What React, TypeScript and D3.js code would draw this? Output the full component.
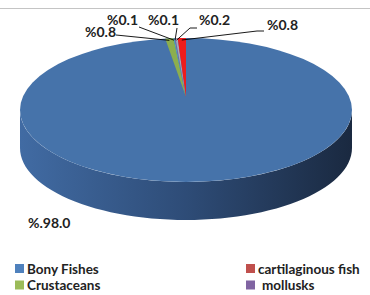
import * as d3 from "d3";

// slices in clockwise drawing order, starting at 12 o'clock
const categories = ["Bony Fishes", "Crustaceans", "group 5", "mollusks", "group 6", "cartilaginous fish"];
const values = [98.0, 0.8, 0.1, 0.1, 0.2, 0.8];
const labels = ["%.98.0", "%0.8", "%0.1", "%0.1", "%0.2", "%0.8"];
const colors = ["#4673aa", "#8cae4e", "#4bacc6", "#8064a2", "#a9a9b8", "#ee1c1c"];

// legend as it shows (two columns)
const legendNames = ["Bony Fishes", "cartilaginous fish", "Crustaceans", "mollusks"];
const legendColors = ["#4f81bd", "#c0504d", "#9bbb59", "#8064a2"];

// label anchors (layout only)
const labelLayout = [
  { x: 28, y: 228, elbow: null },
  { x: 85, y: 37, elbow: [116, 35] },
  { x: 107, y: 25, elbow: [139, 27] },
  { x: 148, y: 25, elbow: [177, 28] },
  { x: 199, y: 25, elbow: [197, 28], elbow2: [190, 28] },
  { x: 267, y: 30, elbow: [264, 31], elbow2: [257, 31] },
];

const W = 370;
const H = 295;
const cx = 186;
const cy = 110;
const rx = 166;
const ry = 72;
const depth = 38;
const apexY = cy - 13;

const pt = (a: number, dy = 0): [number, number] => [cx + rx * Math.sin(a), cy - ry * Math.cos(a) + dy];

export default function App() {
  const pie = d3.pie<number>().sort(null).value((d) => d);
  const arcs = pie(values);

  const line = d3.line();

  // front side of the disc
  const sideTop = d3.range(0, 61).map((i) => pt(Math.PI / 2 + (Math.PI * i) / 60));
  const sideBottom = d3.range(0, 61).map((i) => pt((3 * Math.PI) / 2 - (Math.PI * i) / 60, depth));
  const sidePath = line([...sideTop, ...sideBottom]) + "Z";

  const wedge = (a0: number, a1: number) => {
    const n = 12;
    const pts: [number, number][] = [[cx, apexY]];
    for (let i = 0; i <= n; i++) pts.push(pt(a0 + ((a1 - a0) * i) / n));
    return line(pts) + "Z";
  };

  const font = "Lato, 'Open Sans', sans-serif";

  return (
    <svg width={W} height={H} style={{ position: "absolute", left: 0, top: 0, background: "#fff" }}>
      <defs>
        <linearGradient id="side" x1="0" x2="1" y1="0" y2="0">
          <stop offset="0" stopColor="#416ba3" />
          <stop offset="0.5" stopColor="#2e4c77" />
          <stop offset="1" stopColor="#1a2940" />
        </linearGradient>
      </defs>
      <line x1={0} x2={W} y1={8.5} y2={8.5} stroke="#c4c4c4" strokeWidth={1} />

      <path d={sidePath} fill="url(#side)" />
      <ellipse cx={cx} cy={cy} rx={rx} ry={ry} fill={colors[0]} />

      {arcs.slice(1).map((a, i) => (
        <path key={categories[i + 1]} d={wedge(a.startAngle, a.endAngle)} fill={colors[i + 1]} />
      ))}

      {arcs.map((a, i) => {
        const L = labelLayout[i];
        const mid = (a.startAngle + a.endAngle) / 2;
        const [mx, my] = pt(mid, 2);
        const pts: [number, number][] = [];
        if (L.elbow) {
          pts.push(L.elbow as [number, number]);
          if ((L as any).elbow2) pts.push((L as any).elbow2);
          pts.push([mx, my]);
        }
        return (
          <g key={"lab" + i}>
            {pts.length > 0 && <path d={line(pts) || ""} fill="none" stroke="#000" strokeWidth={0.9} />}
            <text x={L.x} y={L.y} fontFamily={font} fontWeight="bold" fontSize={14} fill="#222">
              {labels[i]}
            </text>
          </g>
        );
      })}

      {legendNames.map((name, i) => {
        const col = i % 2;
        const row = Math.floor(i / 2);
        const x = col === 0 ? 15 : 246;
        const y = 268.5 + row * 16.5;
        return (
          <g key={name}>
            <rect x={x} y={y - 4.5} width={9} height={9} fill={legendColors[i]} />
            <text x={x + 12 + (i === 3 ? 4 : 0)} y={y + 5} fontFamily={font} fontWeight="bold" fontSize={13.5} fill="#222">
              {name}
            </text>
          </g>
        );
      })}
    </svg>
  );
}
